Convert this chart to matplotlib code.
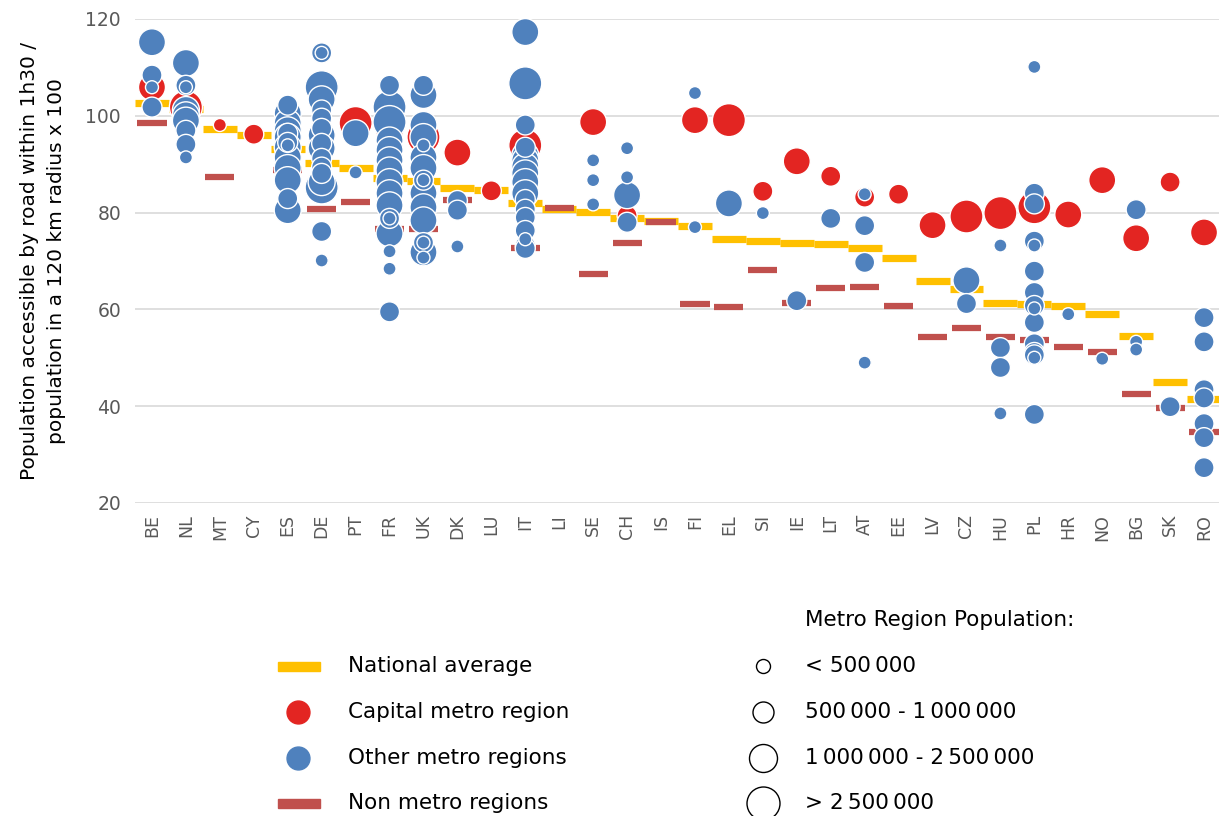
import matplotlib
matplotlib.use("Agg")
import matplotlib.pyplot as plt
from matplotlib.lines import Line2D
import numpy as np

countries = ["BE", "NL", "MT", "CY", "ES", "DE", "PT", "FR", "UK", "DK", "LU", "IT", "LI",
             "SE", "CH", "IS", "FI", "EL", "SI", "IE", "LT", "AT", "EE", "LV", "CZ", "HU",
             "PL", "HR", "NO", "BG", "SK", "RO"]

national_avg = [102.6, 101.5, 97.3, 96.0, 93.2, 90.2, 89.3, 87.2, 86.6, 85.0, 84.6, 82.0, 80.8,
                80.2, 78.8, 78.2, 77.2, 74.5, 74.1, 73.7, 73.6, 72.6, 70.7, 65.8, 64.3, 61.4,
                61.2, 60.8, 59.1, 54.6, 45.0, 41.5]

non_metro = [98.5, None, 87.3, None, 88.7, 80.7, 82.1, 76.7, 76.7, 82.7, None, 72.6, 80.9,
             67.3, 73.8, 78.0, 61.2, 60.5, 68.2, 61.4, 64.5, 64.7, 60.8, 54.4, 56.1, 54.2,
             53.6, 52.3, 51.1, 42.6, 39.7, 34.7]

# size class: 1 <500k, 2 500k-1M, 3 1-2.5M, 4 >2.5M
capital_country = ["BE", "NL", "MT", "CY", "ES", "DE", "PT", "FR", "UK", "DK", "LU", "IT",
                   "SE", "CH", "FI", "EL", "SI", "IE", "LT", "AT", "EE", "LV", "CZ", "HU",
                   "PL", "HR", "NO", "BG", "SK", "RO"]
capital_value = [105.9, 101.8, 98.1, 96.2, 95.4, 95.6, 98.5, 96.6, 95.6, 92.4, 84.5, 93.9,
                 98.7, 79.4, 99.1, 99.1, 84.4, 90.6, 87.5, 83.2, 83.8, 77.4, 79.2, 79.9,
                 81.1, 79.6, 86.7, 74.7, 86.3, 75.9]
capital_size = [3, 4, 1, 2, 3, 3, 4, 3, 4, 3, 2, 4,
                3, 2, 3, 4, 2, 3, 2, 2, 2, 3, 4, 4,
                4, 3, 3, 3, 2, 3]

other_country = (["BE"] * 4 + ["NL"] * 9 + ["ES"] * 14 + ["DE"] * 17 + ["PT"] * 2 +
                 ["FR"] * 16 + ["UK"] * 16 + ["DK"] * 3 + ["IT"] * 17 + ["SE"] * 3 +
                 ["CH"] * 4 + ["FI"] * 2 + ["EL"] + ["SI"] + ["IE"] + ["LT"] + ["AT"] * 4 +
                 ["CZ"] * 2 + ["HU"] * 4 + ["PL"] * 15 + ["HR"] + ["NO"] + ["BG"] * 3 +
                 ["SK"] + ["RO"] * 7)
other_value = [115.2, 108.4, 105.9, 101.8,
               110.9, 106.3, 105.9, 101.2, 100.1, 99.0, 97.0, 94.1, 91.4,
               102.2, 100.5, 98.5, 97.0, 96.4, 95.6, 94.5, 93.9, 93.5, 91.4, 89.2, 86.7, 82.9, 80.5,
               113.0, 113.0, 105.9, 103.4, 101.2, 99.5, 97.4, 96.0, 94.3, 93.3, 91.2, 89.4, 88.1,
               86.3, 85.2, 76.1, 70.1,
               96.4, 88.3,
               106.3, 101.8, 98.7, 94.9, 92.9, 90.8, 88.7, 86.3, 84.0, 81.5, 78.8, 78.8, 75.7,
               72.0, 68.4, 59.5,
               106.3, 104.3, 98.1, 95.6, 93.9, 91.4, 89.2, 86.7, 86.7, 84.0, 81.1, 78.4, 73.8,
               73.8, 71.8, 70.7,
               82.5, 80.5, 73.0,
               117.3, 106.7, 98.1, 93.5, 91.8, 90.8, 89.5, 88.1, 86.3, 84.0, 82.7, 80.7, 79.0,
               76.3, 74.5, 73.2, 72.6,
               90.8, 86.7, 81.7,
               93.3, 87.3, 83.6, 78.0,
               104.7, 77.0,
               81.9,
               79.9,
               61.8,
               78.8,
               83.8, 77.3, 69.7, 49.0,
               66.0, 61.2,
               73.2, 52.1, 48.0, 38.5,
               110.1, 84.0, 81.8, 74.1, 73.2, 67.9, 63.5, 60.8, 60.2, 57.3, 52.9, 51.1, 50.6,
               50.0, 38.3,
               59.0,
               49.8,
               80.6, 53.3, 51.7,
               39.9,
               58.3, 53.3, 43.4, 41.7, 36.4, 33.5, 27.3]
other_size = [3, 2, 1, 2,
              3, 2, 1, 3, 3, 3, 2, 2, 1,
              2, 3, 3, 3, 2, 3, 2, 1, 3, 3, 3, 3, 2, 3,
              2, 1, 4, 3, 2, 2, 2, 3, 2, 3, 2, 2, 2, 3, 4, 2, 1,
              3, 1,
              2, 4, 4, 3, 3, 3, 3, 3, 3, 3, 2, 1, 3, 1, 1, 2,
              2, 3, 3, 3, 1, 3, 3, 2, 1, 3, 3, 3, 2, 1, 3, 1,
              2, 2, 1,
              3, 4, 2, 2, 3, 3, 3, 3, 3, 3, 2, 2, 2, 2, 1, 2, 2,
              1, 1, 1,
              1, 1, 3, 2,
              1, 1,
              3,
              1,
              2,
              2,
              1, 2, 2, 1,
              3, 2,
              1, 2, 2, 1,
              1, 2, 2, 2, 1, 2, 2, 2, 1, 2, 2, 2, 2, 1, 2,
              1,
              1,
              2, 1, 1,
              2,
              2, 2, 2, 2, 2, 2, 2]

size_diam_px = {1: 13, 2: 20, 3: 27, 4: 33}

YELLOW = "#FFC000"
DARKRED = "#C0504D"
RED = "#E32522"
BLUE = "#4F81BD"
GREY = "#595959"

fig = plt.figure(figsize=(12.19, 8.16), dpi=100)
ax = fig.add_axes([135 / 1219, 1 - 503 / 816, (1221 - 135) / 1219, (503 - 19) / 816])
idx = {c: i for i, c in enumerate(countries)}
xs = np.arange(len(countries))

ax.set_xlim(-0.5, len(countries) - 0.5)
ax.set_ylim(20, 120)
ax.set_yticks([20, 40, 60, 80, 100, 120])
ax.grid(axis="y", color="#D9D9D9", lw=1.2, zorder=0)
ax.set_axisbelow(True)
for s in ax.spines.values():
    s.set_visible(False)
ax.tick_params(axis="both", length=0, colors=GREY, labelsize=12.5)
ax.tick_params(axis="y", pad=10, labelsize=13.5)
ax.set_xticks(xs)
ax.set_xticklabels(countries, rotation=90)
ax.tick_params(axis="x", pad=8)

# national average bars
ax.hlines(national_avg, xs - 0.5, xs + 0.5, colors=YELLOW, lw=5.2, zorder=2)
# non metro bars
nm_x = np.array([i for i, v in enumerate(non_metro) if v is not None])
nm_y = np.array([v for v in non_metro if v is not None])
ax.hlines(nm_y, nm_x - 0.43, nm_x + 0.43, colors=DARKRED, lw=4.5, zorder=3)


def sz(c):
    return (size_diam_px[c] * 0.72) ** 2


cx = [idx[c] for c in capital_country]
ax.scatter(cx, capital_value, s=[sz(c) for c in capital_size], color=RED,
           edgecolor="white", linewidth=1.0, zorder=4)
ox = [idx[c] for c in other_country]
# draw larger first so small ones sit on top
order = np.argsort([-s for s in other_size], kind="stable")
ax.scatter(np.array(ox)[order], np.array(other_value)[order],
           s=[sz(other_size[i]) for i in order], color=BLUE,
           edgecolor="white", linewidth=1.0, zorder=5)

ax.set_ylabel("Population accessible by road within 1h30 /\npopulation in a 120 km radius x 100",
              fontsize=14.5, color="black", linespacing=1.55)
ax.yaxis.set_label_coords(-0.0635, 0.5)

# legend (figure pixel coordinates overlay)
lax = fig.add_axes([0, 0, 1, 1])
lax.set_xlim(0, 1219)
lax.set_ylim(816, 0)
lax.axis("off")
fs = 15.5
rows = [666, 712, 758, 803]
lax.add_patch(plt.Rectangle((278, rows[0] - 4.5), 42, 9, color=YELLOW))
lax.add_line(Line2D([298], [rows[1]], marker="o", ms=16.5, color=RED, mec=RED))
lax.add_line(Line2D([298], [rows[2]], marker="o", ms=16.5, color=BLUE, mec=BLUE))
lax.add_patch(plt.Rectangle((278, rows[3] - 4.5), 42, 9, color=DARKRED))
labels = ["National average", "Capital metro region", "Other metro regions", "Non metro regions"]
for r, t in zip(rows, labels):
    lax.text(348, r, t, fontsize=fs, va="center", ha="left", color="black")

lax.text(805, 620, "Metro Region Population:", fontsize=fs, va="center", ha="left")
size_labels = ["< 500\u2009000", "500\u2009000 - 1\u2009000\u2009000",
               "1\u2009000\u2009000 - 2\u2009500\u2009000", "> 2\u2009500\u2009000"]
leg_diam = [14, 21, 28, 33]
for r, t, d in zip(rows, size_labels, leg_diam):
    lax.add_line(Line2D([763], [r], marker="o", ms=d * 0.72, mfc="white", mec="black", mew=1.0))
    lax.text(805, r, t, fontsize=fs, va="center", ha="left")

fig.savefig("out.png", dpi=100)
